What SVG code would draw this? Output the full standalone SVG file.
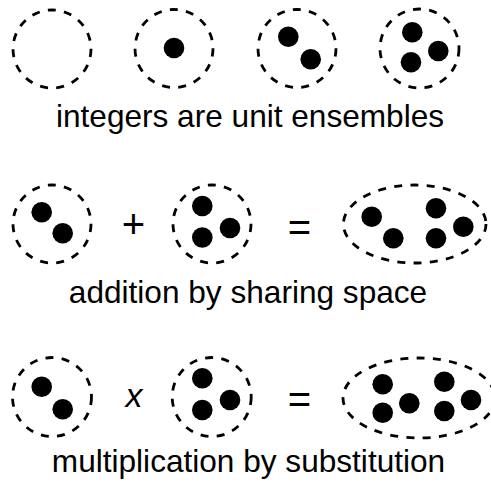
<svg xmlns="http://www.w3.org/2000/svg" width="491" height="483" viewBox="0 0 491 483">
<style>
.ring{fill:none;stroke:#000;stroke-width:2.8;stroke-dasharray:8 8.3}
.dot{fill:#000}
.cap{font-family:"Liberation Sans",Arial,Helvetica,sans-serif;font-size:31.6px;fill:#000;text-anchor:middle}
.op{font-family:"Liberation Sans",Arial,Helvetica,sans-serif;font-size:40px;fill:#000;text-anchor:middle}
.opx{font-family:"Liberation Sans",Arial,Helvetica,sans-serif;font-size:34px;font-style:italic;fill:#000;text-anchor:middle}
</style>
<rect width="491" height="483" fill="#fff"/>
<g id="row1">
  <g id="zero"><circle class="ring" cx="52" cy="49" r="39"/></g>
  <g id="one"><circle class="ring" cx="174" cy="48.5" r="39"/><circle class="dot" cx="174" cy="48" r="10.3"/></g>
  <g id="two"><circle class="ring" cx="297" cy="48.5" r="39"/><circle class="dot" cx="288.3" cy="36.7" r="10.3"/><circle class="dot" cx="310.7" cy="59.3" r="10.3"/></g>
  <g id="three"><circle class="ring" cx="419.5" cy="48.5" r="39.5"/><circle class="dot" cx="412.3" cy="32.3" r="10.3"/><circle class="dot" cx="438.3" cy="51" r="10.3"/><circle class="dot" cx="411" cy="62.3" r="10.3"/></g>
  <text id="t1" class="cap" x="250" y="126.5">integers are unit ensembles</text>
</g>
<g id="row2">
  <g id="add-a"><circle class="ring" cx="52" cy="224" r="39"/><circle class="dot" cx="41.7" cy="212.3" r="10.3"/><circle class="dot" cx="62.7" cy="233.3" r="10.3"/></g>
  <text id="plus" class="op" x="133.5" y="238">+</text>
  <g id="add-b"><circle class="ring" cx="212" cy="224" r="39"/><circle class="dot" cx="202.3" cy="206" r="10.3"/><circle class="dot" cx="230" cy="228" r="10.3"/><circle class="dot" cx="202.3" cy="237.5" r="10.3"/></g>
  <text id="eq1" class="op" x="299.5" y="241">=</text>
  <g id="add-sum"><ellipse class="ring" cx="414.7" cy="224" rx="71.3" ry="39"/><circle class="dot" cx="371.7" cy="216.7" r="10.3"/><circle class="dot" cx="393.3" cy="238.3" r="10.3"/><circle class="dot" cx="436" cy="208.3" r="10.3"/><circle class="dot" cx="463.3" cy="226.7" r="10.3"/><circle class="dot" cx="436" cy="238.3" r="10.3"/></g>
  <text id="t2" class="cap" x="248" y="303.3">addition by sharing space</text>
</g>
<g id="row3">
  <g id="mul-a"><circle class="ring" cx="52" cy="397" r="39.5"/><circle class="dot" cx="41.7" cy="386.7" r="10.3"/><circle class="dot" cx="62.7" cy="409.3" r="10.3"/></g>
  <text id="times" class="opx" x="134" y="407">x</text>
  <g id="mul-b"><circle class="ring" cx="211.7" cy="397" r="39.5"/><circle class="dot" cx="202.3" cy="378.3" r="10.3"/><circle class="dot" cx="230" cy="400" r="10.3"/><circle class="dot" cx="202.3" cy="410" r="10.3"/></g>
  <text id="eq2" class="op" x="299.5" y="413">=</text>
  <g id="mul-prod"><ellipse class="ring" cx="419" cy="398" rx="76" ry="40"/><circle class="dot" cx="382.7" cy="384.3" r="10.3"/><circle class="dot" cx="382.7" cy="412.7" r="10.3"/><circle class="dot" cx="409.3" cy="403.3" r="10.3"/><circle class="dot" cx="444.3" cy="381.7" r="10.3"/><circle class="dot" cx="444.3" cy="411" r="10.3"/><circle class="dot" cx="471" cy="400" r="10.3"/></g>
  <text id="t3" class="cap" x="248.5" y="471.7">multiplication by substitution</text>
</g>
</svg>
